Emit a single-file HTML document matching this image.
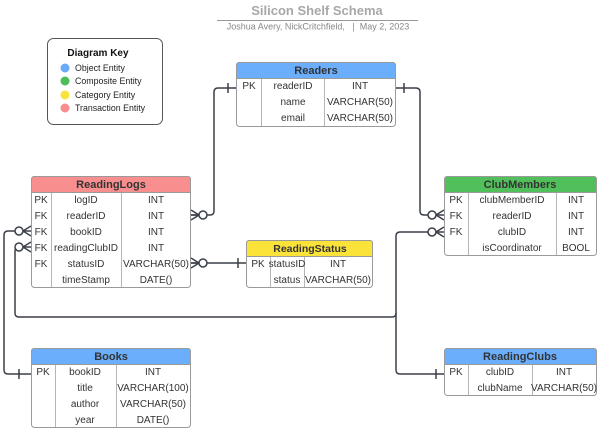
<!DOCTYPE html>
<html><head><meta charset="utf-8"><style>
html,body{margin:0;padding:0;background:#fff;width:600px;height:444px;overflow:hidden}
svg{display:block;font-family:"Liberation Sans",Arial,sans-serif}
.t{font-size:10px;fill:#333;text-anchor:middle}
.h{font-size:11px;font-weight:bold;fill:#333;text-anchor:middle}
.b{fill:#fff;stroke:#9a9a9a;stroke-width:1}
.c{stroke:#b5b5b5;stroke-width:1}
.l{fill:none;stroke:#3b3f48;stroke-width:1.5}
.o{fill:#fff;stroke:#3b3f48;stroke-width:1.5}
</style></head><body>
<svg width="600" height="444" viewBox="0 0 600 444">
<!-- title -->
<text x="317" y="15" style="font-size:13px;font-weight:bold;fill:#a8a8a8" text-anchor="middle">Silicon Shelf Schema</text>
<line x1="217" y1="20.5" x2="418" y2="20.5" stroke="#999" stroke-width="1"/>
<text x="318" y="29.5" style="font-size:9px;fill:#888;white-space:pre" text-anchor="middle" xml:space="preserve">Joshua Avery, NickCritchfield,   |  May 2, 2023</text>

<!-- key -->
<rect x="47.5" y="38.5" width="115" height="86" rx="6" fill="#fff" stroke="#555"/>
<text x="98" y="56" style="font-size:10px;font-weight:bold;fill:#111" text-anchor="middle">Diagram Key</text>
<circle cx="65" cy="68" r="4.5" fill="#6aaaf6"/><text x="75" y="71" style="font-size:8.8px;fill:#222">Object Entity</text>
<circle cx="65" cy="81" r="4.5" fill="#4cbd57"/><text x="75" y="84" style="font-size:8.8px;fill:#222">Composite Entity</text>
<circle cx="65" cy="95" r="4.5" fill="#f8e23c"/><text x="75" y="98" style="font-size:8.8px;fill:#222">Category Entity</text>
<circle cx="65" cy="108" r="4.5" fill="#f78d8d"/><text x="75" y="111" style="font-size:8.8px;fill:#222">Transaction Entity</text>

<!-- connectors -->
<path class="l" d="M236,88 H218 Q214,88 214,92 V211 Q214,215 210,215 H191"/>
<path class="l" d="M396,88 H416 Q420,88 420,92 V211 Q420,215 424,215 H444"/>
<path class="l" d="M246,263 H191"/>
<path class="l" d="M31,374 H8 Q4,374 4,370 V235 Q4,231 8,231 H31"/>
<path class="l" d="M444,374 H400 Q396,374 396,370 V236 Q396,232 400,232 H444"/>
<path class="l" d="M396,313 Q396,317 392,317 H19 Q15,317 15,313 V251 Q15,247 19,247 H31"/>
<!-- bars -->
<line class="l" x1="228" y1="83" x2="228" y2="93"/>
<line class="l" x1="404" y1="83" x2="404" y2="93"/>
<line class="l" x1="238" y1="258" x2="238" y2="268"/>
<line class="l" x1="19" y1="369" x2="19" y2="379"/>
<line class="l" x1="436" y1="369" x2="436" y2="379"/>
<!-- crow feet -->
<path class="l" d="M191,210 L199,215 L191,220 M191,215 H199"/><circle class="o" cx="203" cy="215" r="4"/>
<path class="l" d="M191,258 L199,263 L191,268 M191,263 H199"/><circle class="o" cx="203" cy="263" r="4"/>
<path class="l" d="M444,210 L436,215 L444,220"/><circle class="o" cx="432" cy="215" r="4"/>
<path class="l" d="M444,227 L436,232 L444,237"/><circle class="o" cx="432" cy="232" r="4"/>
<path class="l" d="M31,226 L23,231 L31,236"/><circle class="o" cx="19" cy="231" r="4"/>
<path class="l" d="M31,242 L23,247 L31,252"/><circle class="o" cx="19" cy="247" r="4"/>

<!-- Readers -->
<rect class="b" x="236.5" y="62.5" width="159" height="64" rx="3"/>
<path d="M239.5,62.5 H392.5 Q395.5,62.5 395.5,65.5 V78.5 H236.5 V65.5 Q236.5,62.5 239.5,62.5Z" fill="#6aaefc" stroke="#9a9a9a"/>
<line class="c" x1="261.5" y1="79" x2="261.5" y2="126"/><line class="c" x1="324.5" y1="79" x2="324.5" y2="126"/>
<text class="h" x="316" y="74">Readers</text>
<text class="t" x="249" y="89">PK</text><text class="t" x="293" y="89">readerID</text><text class="t" x="360" y="89">INT</text>
<text class="t" x="293" y="105">name</text><text class="t" x="360" y="105">VARCHAR(50)</text>
<text class="t" x="293" y="121">email</text><text class="t" x="360" y="121">VARCHAR(50)</text>

<!-- ReadingLogs -->
<rect class="b" x="31.5" y="176.5" width="159" height="111" rx="3"/>
<path d="M34.5,176.5 H187.5 Q190.5,176.5 190.5,179.5 V192.5 H31.5 V179.5 Q31.5,176.5 34.5,176.5Z" fill="#f88e8e" stroke="#9a9a9a"/>
<line class="c" x1="51.5" y1="193" x2="51.5" y2="287"/><line class="c" x1="121.5" y1="193" x2="121.5" y2="287"/>
<text class="h" x="111" y="188">ReadingLogs</text>
<text class="t" x="41" y="203">PK</text><text class="t" x="86" y="203">logID</text><text class="t" x="156" y="203">INT</text>
<text class="t" x="41" y="219">FK</text><text class="t" x="86" y="219">readerID</text><text class="t" x="156" y="219">INT</text>
<text class="t" x="41" y="235">FK</text><text class="t" x="86" y="235">bookID</text><text class="t" x="156" y="235">INT</text>
<text class="t" x="41" y="251">FK</text><text class="t" x="86" y="251">readingClubID</text><text class="t" x="156" y="251">INT</text>
<text class="t" x="41" y="267">FK</text><text class="t" x="86" y="267">statusID</text><text class="t" x="156" y="267">VARCHAR(50)</text>
<text class="t" x="86" y="283">timeStamp</text><text class="t" x="156" y="283">DATE()</text>

<!-- ReadingStatus -->
<rect class="b" x="246.5" y="240.5" width="126" height="47" rx="3"/>
<path d="M249.5,240.5 H369.5 Q372.5,240.5 372.5,243.5 V256.5 H246.5 V243.5 Q246.5,240.5 249.5,240.5Z" fill="#fbe33a" stroke="#9a9a9a"/>
<line class="c" x1="270.5" y1="257" x2="270.5" y2="287"/><line class="c" x1="304.5" y1="257" x2="304.5" y2="287"/>
<text class="h" x="310" y="252" style="font-size:10.5px">ReadingStatus</text>
<text class="t" x="258" y="267">PK</text><text class="t" x="287" y="267">statusID</text><text class="t" x="338" y="267">INT</text>
<text class="t" x="287" y="283">status</text><text class="t" x="338" y="283">VARCHAR(50)</text>

<!-- ClubMembers -->
<rect class="b" x="444.5" y="176.5" width="152" height="79" rx="3"/>
<path d="M447.5,176.5 H593.5 Q596.5,176.5 596.5,179.5 V192.5 H444.5 V179.5 Q444.5,176.5 447.5,176.5Z" fill="#52c05a" stroke="#9a9a9a"/>
<line class="c" x1="468.5" y1="193" x2="468.5" y2="255"/><line class="c" x1="556.5" y1="193" x2="556.5" y2="255"/>
<text class="h" x="520" y="188">ClubMembers</text>
<text class="t" x="456" y="203">PK</text><text class="t" x="512" y="203">clubMemberID</text><text class="t" x="576" y="203">INT</text>
<text class="t" x="456" y="219">FK</text><text class="t" x="512" y="219">readerID</text><text class="t" x="576" y="219">INT</text>
<text class="t" x="456" y="235">FK</text><text class="t" x="512" y="235">clubID</text><text class="t" x="576" y="235">INT</text>
<text class="t" x="512" y="251">isCoordinator</text><text class="t" x="576" y="251">BOOL</text>

<!-- Books -->
<rect class="b" x="31.5" y="348.5" width="159" height="79" rx="3"/>
<path d="M34.5,348.5 H187.5 Q190.5,348.5 190.5,351.5 V364.5 H31.5 V351.5 Q31.5,348.5 34.5,348.5Z" fill="#6aaefc" stroke="#9a9a9a"/>
<line class="c" x1="55.5" y1="365" x2="55.5" y2="427"/><line class="c" x1="116.5" y1="365" x2="116.5" y2="427"/>
<text class="h" x="111" y="360">Books</text>
<text class="t" x="43" y="375">PK</text><text class="t" x="85" y="375">bookID</text><text class="t" x="153" y="375">INT</text>
<text class="t" x="85" y="391">title</text><text class="t" x="153" y="391">VARCHAR(100)</text>
<text class="t" x="85" y="407">author</text><text class="t" x="153" y="407">VARCHAR(50)</text>
<text class="t" x="85" y="423">year</text><text class="t" x="153" y="423">DATE()</text>

<!-- ReadingClubs -->
<rect class="b" x="444.5" y="348.5" width="152" height="47" rx="3"/>
<path d="M447.5,348.5 H593.5 Q596.5,348.5 596.5,351.5 V364.5 H444.5 V351.5 Q444.5,348.5 447.5,348.5Z" fill="#6aaefc" stroke="#9a9a9a"/>
<line class="c" x1="468.5" y1="365" x2="468.5" y2="395"/><line class="c" x1="532.5" y1="365" x2="532.5" y2="395"/>
<text class="h" x="520" y="360">ReadingClubs</text>
<text class="t" x="456" y="375">PK</text><text class="t" x="500" y="375">clubID</text><text class="t" x="564" y="375">INT</text>
<text class="t" x="500" y="391">clubName</text><text class="t" x="564" y="391">VARCHAR(50)</text>
</svg>
</body></html>
